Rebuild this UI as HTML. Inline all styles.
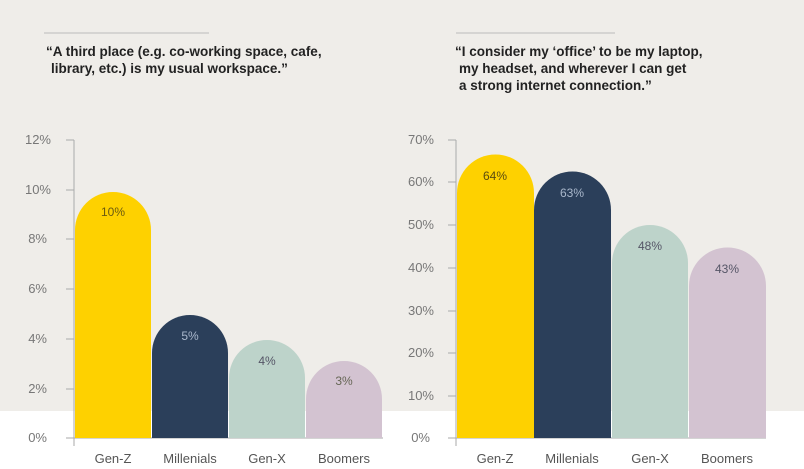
<!DOCTYPE html>
<html><head><meta charset="utf-8"><style>
body{margin:0;width:804px;height:469px;overflow:hidden;background:#fff}
svg{display:block}
text{font-family:"Liberation Sans",sans-serif}
.t{font-size:13.5px;font-weight:bold;fill:#222}
.a{font-size:13px;fill:#777;text-anchor:end}
.c{font-size:13px;fill:#555;text-anchor:middle}
.v{font-size:12px;text-anchor:middle}
</style></head><body>
<svg width="804" height="469" viewBox="0 0 804 469">
<rect x="0" y="0" width="804" height="411" fill="#efede9"/>
<line x1="44" y1="33" x2="209" y2="33" stroke="#bbb" stroke-width="1"/>
<line x1="456" y1="33" x2="615" y2="33" stroke="#bbb" stroke-width="1"/>
<text class="t" x="46" y="56">“A third place (e.g. co-working space, cafe,</text>
<text class="t" x="51" y="73">library, etc.) is my usual workspace.”</text>
<text class="t" x="455" y="56">“I consider my ‘office’ to be my laptop,</text>
<text class="t" x="459" y="73">my headset, and wherever I can get</text>
<text class="t" x="459" y="90">a strong internet connection.”</text>
<g stroke="#aaa" stroke-width="1">
<line x1="74" y1="140" x2="74" y2="446"/>
<line x1="66" y1="140" x2="74" y2="140"/><line x1="66" y1="190" x2="74" y2="190"/><line x1="66" y1="239" x2="74" y2="239"/><line x1="66" y1="289" x2="74" y2="289"/><line x1="66" y1="339" x2="74" y2="339"/><line x1="66" y1="389" x2="74" y2="389"/><line x1="66" y1="438" x2="383" y2="438"/>
<line x1="456" y1="140" x2="456" y2="446"/>
<line x1="448" y1="140" x2="456" y2="140"/><line x1="448" y1="182" x2="456" y2="182"/><line x1="448" y1="225" x2="456" y2="225"/><line x1="448" y1="268" x2="456" y2="268"/><line x1="448" y1="311" x2="456" y2="311"/><line x1="448" y1="353" x2="456" y2="353"/><line x1="448" y1="396" x2="456" y2="396"/><line x1="448" y1="438" x2="766" y2="438"/>
</g>
<g class="a">
<text x="51" y="144">12%</text><text x="51" y="194">10%</text><text x="47" y="243">8%</text><text x="47" y="293">6%</text><text x="47" y="343">4%</text><text x="47" y="393">2%</text><text x="47" y="442">0%</text>
<text x="434" y="144">70%</text><text x="434" y="186">60%</text><text x="434" y="229">50%</text><text x="434" y="272">40%</text><text x="434" y="315">30%</text><text x="434" y="357">20%</text><text x="434" y="400">10%</text><text x="430" y="442">0%</text>
</g>
<path d="M75 438V230A38 38 0 0 1 151 230V438Z" fill="#fed100"/>
<path d="M152 438V353A38 38 0 0 1 228 353V438Z" fill="#2b3f5a"/>
<path d="M229 438V378A38 38 0 0 1 305 378V438Z" fill="#bdd3ca"/>
<path d="M306 438V399A38 38 0 0 1 382 399V438Z" fill="#d3c3d1"/>
<path d="M457 438V193A38.5 38.5 0 0 1 534 193V438Z" fill="#fed100"/>
<path d="M534 438V210A38.5 38.5 0 0 1 611 210V438Z" fill="#2b3f5a"/>
<path d="M612 438V263A38 38 0 0 1 688 263V438Z" fill="#bdd3ca"/>
<path d="M689 438V286A38.5 38.5 0 0 1 766 286V438Z" fill="#d3c3d1"/>
<g class="v">
<text x="113" y="216" fill="#6a5a10">10%</text>
<text x="190" y="340" fill="#aab8cc">5%</text>
<text x="267" y="365" fill="#556">4%</text>
<text x="344" y="385" fill="#665">3%</text>
<text x="495" y="180" fill="#5a4c10">64%</text>
<text x="572" y="197" fill="#aab8cc">63%</text>
<text x="650" y="250" fill="#556">48%</text>
<text x="727" y="273" fill="#556">43%</text>
</g>
<g class="c">
<text x="113" y="463">Gen-Z</text><text x="190" y="463">Millenials</text><text x="267" y="463">Gen-X</text><text x="344" y="463">Boomers</text>
<text x="495" y="463">Gen-Z</text><text x="572" y="463">Millenials</text><text x="650" y="463">Gen-X</text><text x="727" y="463">Boomers</text>
</g>
</svg>
</body></html>
